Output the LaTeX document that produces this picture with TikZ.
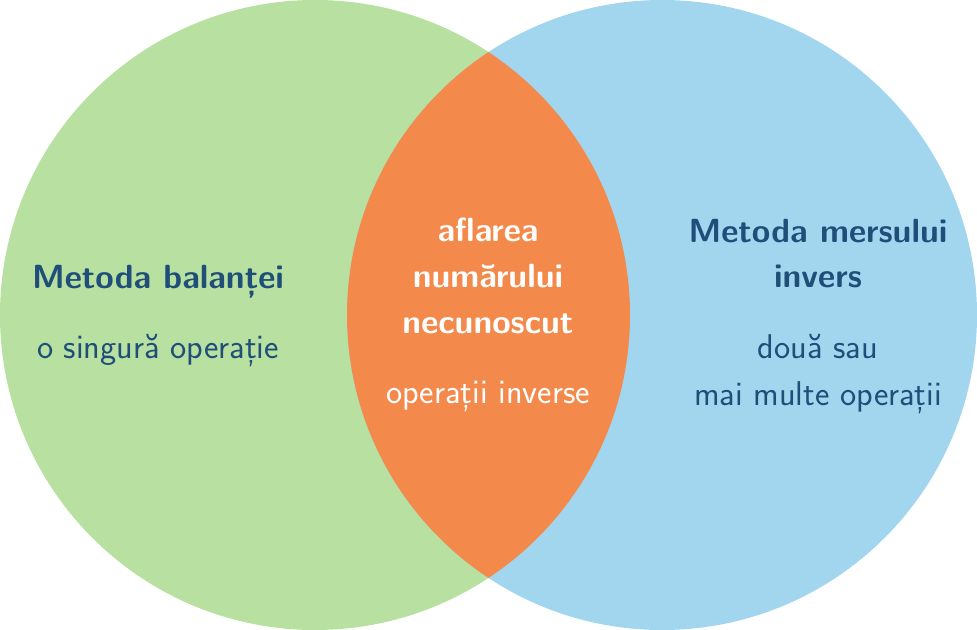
\documentclass[tikz,border=0pt]{standalone}
\definecolor{vgreen}{HTML}{B8E0A0}
\definecolor{vblue}{HTML}{A2D6EF}
\definecolor{vorange}{HTML}{F38A4C}
\definecolor{vtext}{HTML}{1F4E79}
\begin{document}
\begin{tikzpicture}[x=1bp,y=-1bp,
  lbl/.style={anchor=base,text=vtext,font=\sffamily\fontsize{34.5}{40}\selectfont,inner sep=0pt},
  title/.style={lbl,font=\sffamily\bfseries\fontsize{33.6}{40}\selectfont},
  wlbl/.style={lbl,text=white},
  wtitle/.style={title,text=white}]
\useasboundingbox (0,0) rectangle (977,630);
\fill[vgreen] (315,315) circle[radius=315];
\fill[vblue] (662,315) circle[radius=315];
\begin{scope}
\clip (315,315) circle[radius=315];
\fill[vorange] (662,315) circle[radius=315];
\end{scope}
\node[title] (lt) at (158,289) {Metoda balanței};
\node[lbl] (ls) at (158,358) {o singură operație};
\node[wtitle] (c1) at (488,242) {aflarea};
\node[wtitle] (c2) at (488,288) {numărului};
\node[wtitle] (c3) at (488,333) {necunoscut};
\node[wlbl] (c4) at (488,403) {operații inverse};
\node[title] (r1) at (818,243) {Metoda mersului};
\node[title] (r2) at (818,288) {invers};
\node[lbl] (r3) at (818,358) {două sau};
\node[lbl] (r4) at (818,405) {mai multe operații};
\end{tikzpicture}
\end{document}
